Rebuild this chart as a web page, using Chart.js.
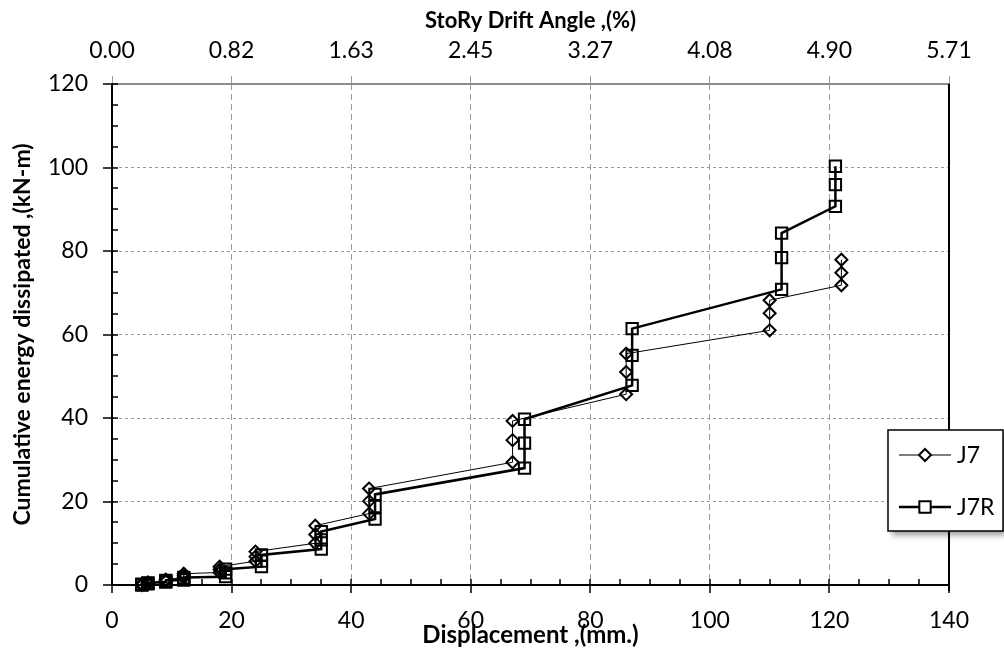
<!DOCTYPE html>
<html>
<head>
<meta charset="utf-8">
<script src="https://cdn.jsdelivr.net/npm/chart.js@4.4.0/dist/chart.umd.min.js"></script>
<style>
  html, body { margin: 0; padding: 0; background: #fff; }
</style>
</head>
<body>
<canvas id="myChart" width="1004" height="652"></canvas>
<script>
// displacement (mm) and cumulative energy (kN-m), three cycles per level
const j7Disp   = [5, 5, 5, 6, 6, 6, 9, 9, 9, 12, 12, 12, 18, 18, 18, 24, 24, 24, 34, 34, 34, 43, 43, 43, 67, 67, 67, 86, 86, 86, 110, 110, 110, 122, 122, 122];
const j7Energy = [0, 0.1, 0.2, 0.3, 0.45, 0.6, 0.9, 1.1, 1.3, 1.8, 2.2, 2.7, 3.0, 3.7, 4.4, 5.7, 6.8, 8.0, 10.0, 12.1, 14.2, 17.1, 20.1, 23.1, 29.4, 34.7, 39.3, 45.7, 51.0, 55.4, 61.0, 65.1, 68.2, 71.8, 74.8, 77.9];
const j7rDisp   = [5, 5, 5, 6, 6, 6, 9, 9, 9, 12, 12, 12, 19, 19, 19, 25, 25, 25, 35, 35, 35, 44, 44, 44, 69, 69, 69, 87, 87, 87, 112, 112, 112, 121, 121, 121];
const j7rEnergy = [0, 0.1, 0.2, 0.3, 0.4, 0.5, 0.7, 0.9, 1.1, 1.2, 1.5, 1.8, 2.0, 2.9, 3.8, 4.4, 5.7, 7.2, 8.6, 10.8, 12.8, 15.8, 18.8, 21.7, 28.0, 34.0, 39.7, 47.8, 55.0, 61.4, 70.8, 78.4, 84.3, 90.7, 95.9, 100.3];
const driftTicks = ['0.00', '0.82', '1.63', '2.45', '3.27', '4.08', '4.90', '5.71'];
const seriesNames = ['J7', 'J7R'];

const toPoints = (xs, ys) => xs.map((v, i) => ({x: v, y: ys[i]}));
const tickFont = {family: 'Lato', size: 23};

// minor ticks, right frame line and the boxed legend
const extras = {
    id: 'extras',
    afterDraw(chart) {
        const {ctx, chartArea: a, scales: {x, y}} = chart;
        ctx.save();
        ctx.strokeStyle = '#000';
        ctx.lineWidth = 1.5;
        ctx.beginPath();
        for (let v = y.min; v <= y.max; v += 5) {
            const py = Math.round(y.getPixelForValue(v));
            ctx.moveTo(a.left - (v % 20 === 0 ? 9 : 0), py);
            ctx.lineTo(a.left + 6, py);
        }
        for (let v = x.min; v <= x.max; v += 5) {
            const px = Math.round(x.getPixelForValue(v));
            ctx.moveTo(px, a.bottom + (v % 20 === 0 ? 8 : 0));
            ctx.lineTo(px, a.bottom - 6);
        }
        ctx.stroke();

        ctx.lineWidth = 2;
        ctx.beginPath();
        ctx.moveTo(a.right, a.top);
        ctx.lineTo(a.right, a.bottom + 6);
        ctx.stroke();

        // legend
        const l = chart.width - 116, t = a.top + 346, w = 115, h = 101;
        ctx.save();
        ctx.shadowColor = 'rgba(0,0,0,0.4)';
        ctx.shadowBlur = 6;
        ctx.shadowOffsetX = 4;
        ctx.shadowOffsetY = 4;
        ctx.fillStyle = '#fff';
        ctx.fillRect(l, t, w, h);
        ctx.restore();
        ctx.lineWidth = 1.5;
        ctx.strokeRect(l, t, w, h);

        ctx.font = '23px Lato';
        ctx.fillStyle = '#000';
        ctx.textBaseline = 'middle';
        chart.data.datasets.forEach((ds, i) => {
            const ly = t + 25 + i * 52;
            const cx = l + 37;
            ctx.lineWidth = ds.borderWidth;
            ctx.beginPath();
            ctx.moveTo(l + 11, ly);
            ctx.lineTo(l + 63, ly);
            ctx.stroke();
            ctx.lineWidth = 2;
            ctx.fillStyle = '#fff';
            ctx.beginPath();
            const r = ds.pointRadius;
            if (ds.pointStyle === 'rectRot') {
                ctx.moveTo(cx - r, ly); ctx.lineTo(cx, ly - r);
                ctx.lineTo(cx + r, ly); ctx.lineTo(cx, ly + r);
                ctx.closePath();
            } else {
                const s = r * Math.SQRT1_2;
                ctx.rect(cx - s, ly - s, 2 * s, 2 * s);
            }
            ctx.fill();
            ctx.stroke();
            ctx.fillStyle = '#000';
            ctx.fillText(ds.label, l + 69, ly + 1);
        });
        ctx.restore();
    }
};

const ctx = document.getElementById('myChart').getContext('2d');

const myChart = new Chart(ctx, {
    type: 'scatter',
    data: {
        datasets: [{
            label: seriesNames[0],
            data: toPoints(j7Disp, j7Energy),
            showLine: true,
            borderColor: '#000',
            borderWidth: 1,
            pointStyle: 'rectRot',
            pointRadius: 6,
            pointBorderWidth: 2,
            pointBorderColor: '#000',
            pointBackgroundColor: 'rgba(0,0,0,0)',
            clip: false,
            order: 1
        }, {
            label: seriesNames[1],
            data: toPoints(j7rDisp, j7rEnergy),
            showLine: true,
            borderColor: '#000',
            borderWidth: 2.5,
            pointStyle: 'rect',
            pointRadius: 8,
            pointBorderWidth: 2,
            pointBorderColor: '#000',
            pointBackgroundColor: 'rgba(0,0,0,0)',
            clip: false,
            order: 0
        }]
    },
    options: {
        responsive: false,
        animation: false,
        layout: {padding: {left: 0, right: 55, top: 0, bottom: 0}},
        scales: {
            x: {
                type: 'linear',
                position: 'bottom',
                min: 0,
                max: 140,
                ticks: {stepSize: 20, padding: 22, color: '#000', font: tickFont, maxRotation: 0},
                grid: {color: '#9a9a9a', lineWidth: 1, drawTicks: false},
                border: {color: '#000', width: 2, dash: [6, 4]},
                title: {
                    display: true, text: 'Displacement ,(mm.)', color: '#000',
                    font: {family: 'Lato', size: 24, weight: 'bold'},
                    padding: {top: 0, bottom: 2}
                },
                afterFit: s => { s.height = 67; }
            },
            x2: {
                type: 'linear',
                position: 'top',
                min: 0,
                max: 140,
                ticks: {
                    stepSize: 20, padding: 12, color: '#000', font: tickFont, maxRotation: 0,
                    callback: (v, i) => driftTicks[i]
                },
                grid: {color: '#9a9a9a', drawOnChartArea: false, drawTicks: true, tickLength: 8},
                border: {color: '#8a8a8a', width: 2, dash: [6, 4]},
                title: {
                    display: true, text: 'StoRy Drift Angle ,(%)', color: '#000',
                    font: {family: 'Lato', size: 22, weight: 'bold'},
                    padding: {top: 8, bottom: 0}
                },
                afterFit: s => { s.height = 84; }
            },
            y: {
                type: 'linear',
                min: 0,
                max: 120,
                ticks: {stepSize: 20, padding: 24, color: '#000', font: tickFont},
                grid: {color: '#9a9a9a', lineWidth: 1, drawTicks: false},
                border: {color: '#000', width: 2, dash: [3, 3]},
                title: {
                    display: true, text: 'Cumulative energy dissipated ,(kN-m)', color: '#000',
                    font: {family: 'Lato', size: 23, weight: 'bold'},
                    padding: {top: 9, bottom: 0}
                },
                afterFit: s => { s.width = 112; }
            }
        },
        plugins: {
            legend: {display: false},
            tooltip: {enabled: false}
        }
    },
    plugins: [extras]
});
</script>
</body>
</html>
